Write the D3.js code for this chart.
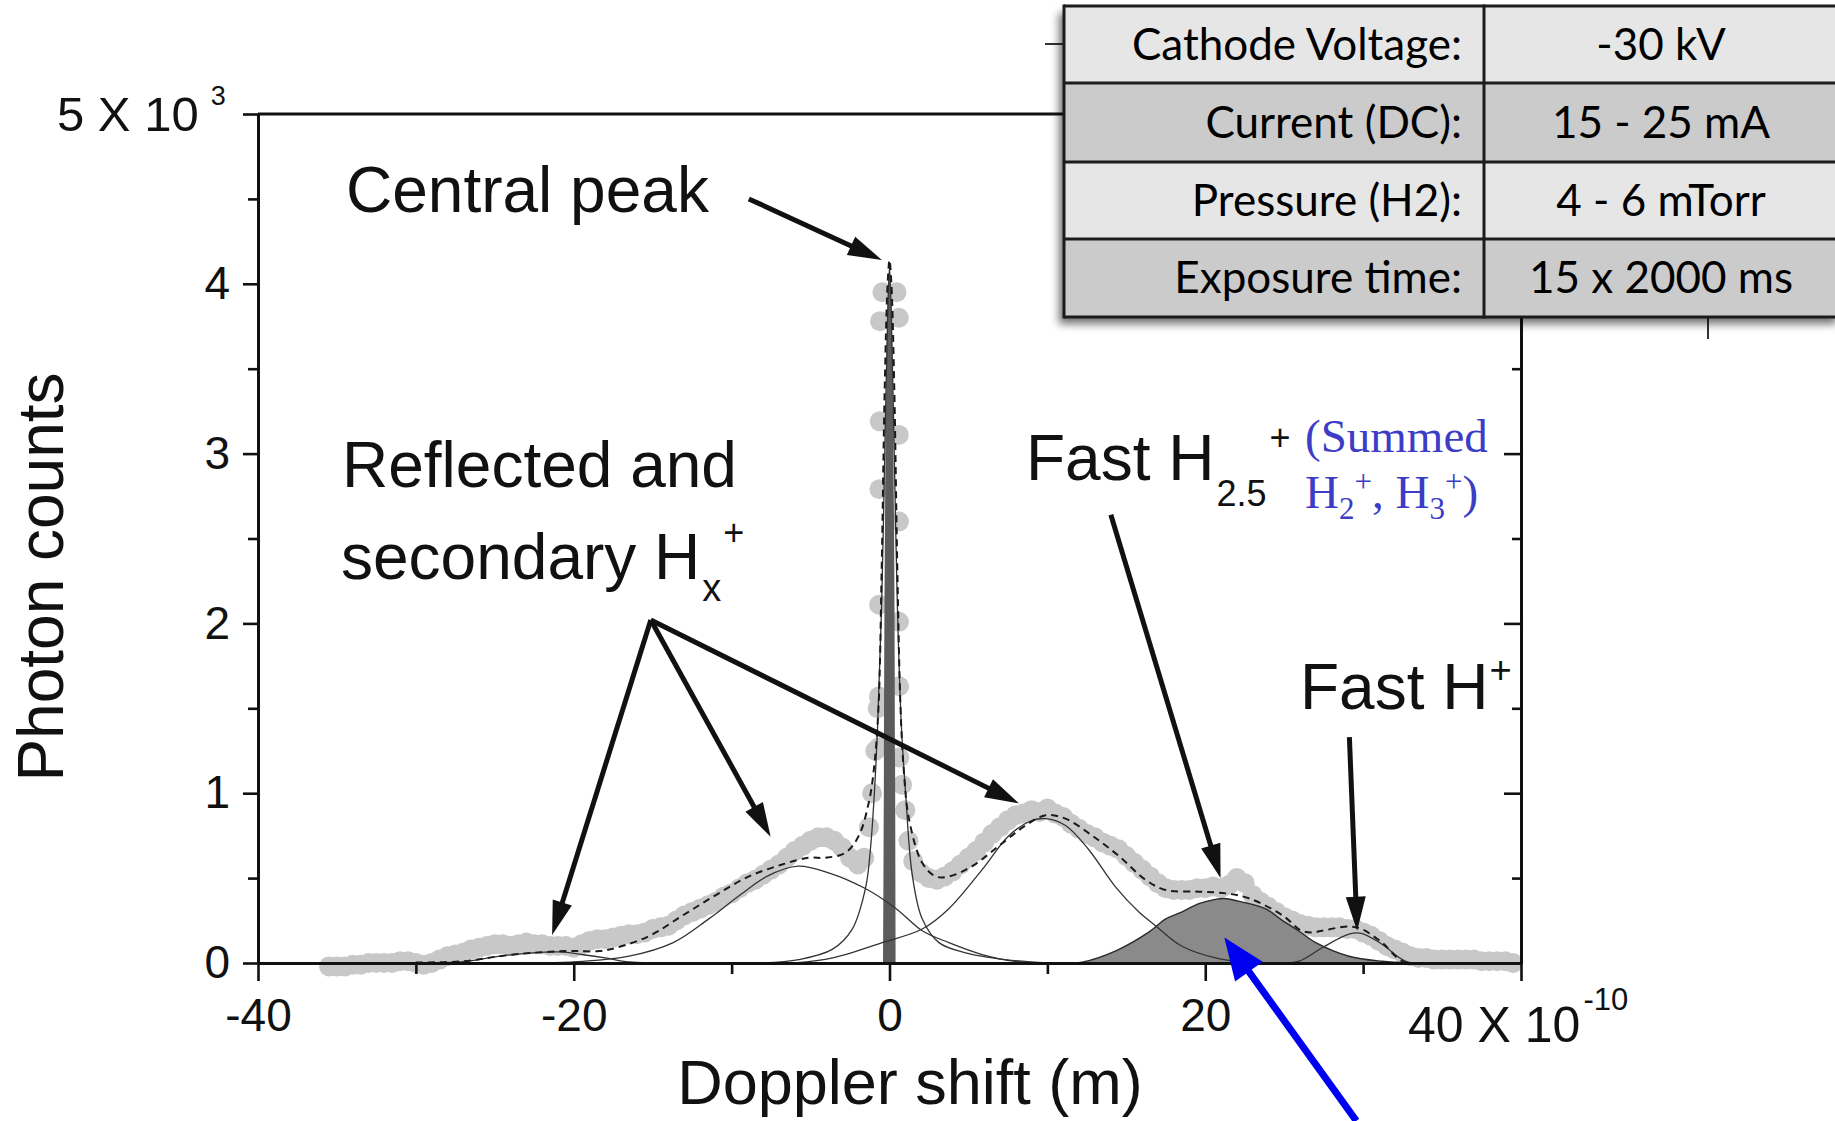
<!DOCTYPE html>
<html>
<head>
<meta charset="utf-8">
<script src="https://cdn.jsdelivr.net/npm/d3@7"></script>
<style>
  html, body { margin: 0; padding: 0; background: #ffffff; }
  svg { display: block; }
</style>
</head>
<body>
<svg id="chart" width="1835" height="1121"></svg>
<script>
// ---- Measured spectrum: Doppler shift (x 1e-10 m) and photon counts (x 1e3) ----
const dopplerShift = [
  -35.5, -35, -34.5, -34, -33.5, -33, -32.5, -32, -31.5, -31, -30.5, -30, -29.5, -29, -28.5, -28,
  -27.5, -27, -26.5, -26, -25.5, -25, -24.5, -24, -23.5, -23, -22.5, -22, -21.5, -21, -20.5, -20,
  -19.5, -19, -18.5, -18, -17.5, -17, -16.5, -16, -15.5, -15, -14.5, -14, -13.5, -13, -12.5, -12,
  -11.5, -11, -10.5, -10, -9.5, -9, -8.5, -8, -7.5, -7, -6.5, -6, -5.5, -5, -4.5, -4, -3.5, -3,
  -2.5, -2, -1.6, -1.3, -1.1, -0.9, -0.75,
  -0.67, -0.67, -0.66, -0.64, -0.62, -0.6, -0.45,
  0.45, 0.59, 0.59, 0.6, 0.6, 0.61, 0.62,
  0.8, 1.0, 1.2, 1.5, 2.0, 2.5, 3.0, 3.5, 4.0, 4.5, 5.0, 5.5, 6.0, 6.5, 7.0, 7.5, 8.0, 8.5, 9.0,
  9.5, 10, 10.5, 11, 11.5, 12, 12.5, 13, 13.5, 14, 14.5, 15, 15.5, 16, 16.5, 17, 17.5, 18, 18.5,
  19, 19.5, 20, 20.5, 21, 21.5, 22, 22.5, 23, 23.5, 24, 24.5, 25, 25.5, 26, 26.5, 27, 27.5, 28,
  28.5, 29, 29.5, 30, 30.5, 31, 31.5, 32, 32.5, 33, 33.5, 34, 34.5, 35, 35.5, 36, 36.5, 37, 37.5,
  38, 38.5, 39, 39.5
];
const photonCounts = [
  -0.02, -0.02, -0.02, -0.01, -0.01, 0.0, 0.0, 0.0, 0.0, 0.01, 0.01, 0.0, -0.01, 0.0, 0.02, 0.04,
  0.05, 0.06, 0.08, 0.09, 0.10, 0.11, 0.11, 0.10, 0.11, 0.12, 0.11, 0.11, 0.10, 0.10, 0.10, 0.09,
  0.11, 0.13, 0.14, 0.14, 0.15, 0.16, 0.17, 0.17, 0.18, 0.20, 0.21, 0.22, 0.25, 0.28, 0.30, 0.32,
  0.34, 0.36, 0.39, 0.41, 0.44, 0.47, 0.49, 0.52, 0.55, 0.58, 0.62, 0.66, 0.69, 0.72, 0.74, 0.74, 0.72, 0.68,
  0.62, 0.58, 0.62, 0.80, 1.00, 1.25, 1.50,
  1.27, 1.57, 2.11, 2.79, 3.19, 3.78, 3.95,
  3.95, 3.80, 3.11, 2.60, 2.01, 1.63, 1.21,
  1.05, 0.90, 0.72, 0.60, 0.53, 0.50, 0.49, 0.51, 0.54, 0.58, 0.62, 0.66, 0.71, 0.76, 0.80, 0.84, 0.87, 0.88, 0.90,
  0.89, 0.91, 0.88, 0.86, 0.82, 0.79, 0.76, 0.74, 0.71, 0.69, 0.67, 0.63, 0.59, 0.55, 0.51, 0.47, 0.44, 0.43, 0.43,
  0.43, 0.44, 0.44, 0.45, 0.44, 0.46, 0.50, 0.47, 0.40, 0.36, 0.33, 0.30, 0.27, 0.25, 0.23, 0.22, 0.21, 0.21, 0.21,
  0.21, 0.20, 0.20, 0.18, 0.16, 0.13, 0.10, 0.08, 0.06, 0.04, 0.03, 0.03, 0.02, 0.02, 0.02, 0.02, 0.02, 0.02, 0.01,
  0.01, 0.01, 0.01, 0.00
];

// ---- Fitted curves ----
// total fit (dashed)
const fitTotalX = [-30, -27, -24.7, -22.6, -20.5, -19.7, -18.4, -17.3, -15.2, -13.1, -11, -8.9, -6.8, -5.1,
  -4.05, -2.78, -1.94, -1.3, -0.99, -0.7, -0.5, -0.3, -0.12, 0, 0.12, 0.3, 0.5, 0.7, 0.9, 1.23, 2.07,
  2.92, 3.76, 5.24, 6.93, 8.62, 9.89, 11.15, 12.84, 14.53, 16.22, 17.49, 19.6, 21.3, 22.8, 24.9, 26.1,
  26.8, 27.4, 29.1, 29.9, 31.2, 32.5, 34];
const fitTotalY = [0.003, 0.01, 0.04, 0.06, 0.07, 0.07, 0.07, 0.09, 0.16, 0.28, 0.40, 0.51, 0.58, 0.62,
  0.62, 0.65, 0.75, 0.95, 1.14, 1.5, 2.3, 3.4, 4.0, 4.14, 4.0, 3.4, 2.3, 1.5, 1.14, 0.85, 0.59,
  0.51, 0.51, 0.57, 0.69, 0.81, 0.87, 0.85, 0.75, 0.63, 0.49, 0.43, 0.42, 0.41, 0.38, 0.28, 0.19,
  0.18, 0.19, 0.215, 0.20, 0.12, 0.01, 0];

// reflected / secondary component near -21
const compAX = [-31, -28.5, -26.8, -24.7, -22.6, -20.9, -19.5, -18, -16.7, -14];
const compAY = [0, 0.002, 0.01, 0.04, 0.06, 0.065, 0.05, 0.03, 0.008, 0];
// reflected / secondary component near -6
const compBX = [-24, -19.4, -16.5, -13.7, -11.45, -9.47, -7.77, -5.8, -3.81, -1.56, 0.42, 2.07, 3.76, 5.87, 7.99, 11];
const compBY = [0, 0.01, 0.04, 0.12, 0.26, 0.40, 0.51, 0.57, 0.53, 0.44, 0.32, 0.19, 0.12, 0.05, 0.01, 0];
// central (unshifted) line, broad wings
const compCX = [-8, -5.75, -3.63, -2.36, -1.5, -1.2, -0.99, -0.75, -0.5, -0.3, -0.12, 0, 0.12, 0.3, 0.5, 0.75, 1.02, 1.44, 2.07, 3.13, 4.82, 7.35, 10];
const compCY = [0, 0.02, 0.08, 0.20, 0.45, 0.68, 0.95, 1.4, 2.1, 3.0, 3.8, 4.1, 3.8, 3.0, 2.1, 1.4, 1.0, 0.52, 0.26, 0.12, 0.06, 0.02, 0];
// central narrow peak (filled)
const centralX = [-0.4, -0.36, -0.3, -0.2, -0.1, 0, 0.1, 0.2, 0.3, 0.36, 0.4];
const centralY = [0, 1.0, 2.4, 3.4, 3.9, 4.05, 3.9, 3.4, 2.4, 1.0, 0];
// reflected / secondary component near +10
const compDX = [-6, -3.6, -0.46, 2.07, 3.76, 5.87, 7.56, 9.04, 9.9, 11.15, 12.6, 14.3, 15.8, 16.85, 18.5, 20.65, 23];
const compDY = [0, 0.03, 0.12, 0.20, 0.32, 0.55, 0.75, 0.84, 0.85, 0.81, 0.67, 0.45, 0.30, 0.22, 0.10, 0.03, 0];
// fast H2.5+ component (filled)
const fastH25X = [11, 12.2, 14.3, 16.4, 17.5, 18.5, 19.6, 20.65, 21.2, 22.3, 23.8, 24.9, 25.9, 27.0, 29.1, 31.2, 33];
const fastH25Y = [0, 0.005, 0.07, 0.18, 0.26, 0.30, 0.35, 0.375, 0.38, 0.36, 0.32, 0.25, 0.19, 0.12, 0.04, 0.01, 0];
// fast H+ component
const fastH1X = [24, 25.9, 27.4, 29.1, 29.9, 31.2, 32.7, 34.5];
const fastH1Y = [0, 0.01, 0.09, 0.17, 0.175, 0.11, 0.01, 0];

// ---- Axes ----
const xMajorTicks = [-40, -20, 0, 20, 40];
const xMinorTicks = [-30, -10, 10, 30];
const yMajorTicks = [0, 1, 2, 3, 4, 5];
const yMinorTicks = [0.5, 1.5, 2.5, 3.5, 4.5];

// ---- Run parameters table ----
const paramLabels = ["Cathode Voltage:", "Current (DC):", "Pressure (H2):", "Exposure time:"];
const paramValues = ["-30 kV", "15 - 25 mA", "4 - 6 mTorr", "15 x 2000 ms"];

// ===================================================================
const svg = d3.select("#chart");
const SANS = "'Liberation Sans', Arial, Helvetica, sans-serif";
const SERIF = "'Liberation Serif', 'Times New Roman', serif";
const TABLE_FONT = "Lato, 'Open Sans', sans-serif";
const INK = "#111";

const x = d3.scaleLinear().domain([-40, 40]).range([258, 1521]);
const y = d3.scaleLinear().domain([0, 5]).range([963, 114]);

const defs = svg.append("defs");
const shadow = defs.append("filter").attr("id", "tableShadow")
  .attr("x", "-10%").attr("y", "-10%").attr("width", "130%").attr("height", "140%");
shadow.append("feDropShadow").attr("dx", -5).attr("dy", 7).attr("stdDeviation", 4)
  .attr("flood-color", "#000").attr("flood-opacity", 0.55);

const plot = svg.append("g");
const curve = d3.curveCatmullRom.alpha(0.5);
const line = d3.line().x(d => x(d[0])).y(d => y(d[1])).curve(curve);
const area = d3.area().x(d => x(d[0])).y0(y(0)).y1(d => y(d[1])).curve(curve);

// measured points
plot.append("g").selectAll("circle")
  .data(d3.zip(dopplerShift, photonCounts))
  .join("circle")
  .attr("cx", d => x(d[0]))
  .attr("cy", d => y(d[1]))
  .attr("r", 10)
  .attr("fill", "#c8c8c8");

// filled components
plot.append("path").datum(d3.zip(fastH25X, fastH25Y))
  .attr("d", area).attr("fill", "#8a8a8a").attr("stroke", "#2a2a2a").attr("stroke-width", 1.4);
plot.append("path").datum(d3.zip(centralX, centralY))
  .attr("d", area).attr("fill", "#5c5c5c");

// thin component lines
[[compAX, compAY], [compBX, compBY], [compCX, compCY], [compDX, compDY], [fastH1X, fastH1Y]]
  .forEach(([xs, ys]) => {
    plot.append("path").datum(d3.zip(xs, ys))
      .attr("d", line).attr("fill", "none")
      .attr("stroke", "#333").attr("stroke-width", 1.3);
  });

// total fit
plot.append("path").datum(d3.zip(fitTotalX, fitTotalY))
  .attr("d", line).attr("fill", "none")
  .attr("stroke", "#1a1a1a").attr("stroke-width", 2)
  .attr("stroke-dasharray", "7,5");

// ---- axes ----
function styleAxis(g, fontSize) {
  g.select(".domain").attr("stroke", INK).attr("stroke-width", 3);
  g.selectAll(".tick line").attr("stroke", INK).attr("stroke-width", 2.6);
  g.selectAll(".tick text").attr("fill", INK).attr("font-family", SANS).attr("font-size", fontSize);
}

svg.append("g").attr("transform", `translate(${x(-40)},0)`)
  .call(d3.axisLeft(y).tickValues(yMinorTicks).tickSize(10).tickSizeOuter(0).tickFormat(""))
  .call(g => styleAxis(g, 46));
svg.append("g").attr("transform", `translate(${x(-40)},0)`)
  .call(d3.axisLeft(y).tickValues(yMajorTicks).tickSize(15).tickSizeOuter(0).tickPadding(13)
    .tickFormat(d => d === 5 ? "" : String(d)))
  .call(g => styleAxis(g, 46));

svg.append("g").attr("transform", `translate(${x(40)},0)`)
  .call(d3.axisLeft(y).tickValues(yMinorTicks).tickSize(9).tickSizeOuter(0).tickFormat(""))
  .call(g => styleAxis(g, 46));
svg.append("g").attr("transform", `translate(${x(40)},0)`)
  .call(d3.axisLeft(y).tickValues(yMajorTicks).tickSize(17).tickSizeOuter(0).tickFormat(""))
  .call(g => styleAxis(g, 46));

svg.append("g").attr("transform", `translate(0,${y(0)})`)
  .call(d3.axisBottom(x).tickValues(xMinorTicks).tickSize(11).tickSizeOuter(0).tickFormat(""))
  .call(g => styleAxis(g, 46));
svg.append("g").attr("transform", `translate(0,${y(0)})`)
  .call(d3.axisBottom(x).tickValues(xMajorTicks).tickSize(18).tickSizeOuter(0).tickPadding(17)
    .tickFormat(d => d === 40 ? "" : String(d)))
  .call(g => styleAxis(g, 46));

// top frame
svg.append("line").attr("x1", x(-40)).attr("x2", x(40)).attr("y1", y(5)).attr("y2", y(5))
  .attr("stroke", INK).attr("stroke-width", 3);

// scaled end labels
const yEnd = svg.append("text").attr("x", 57).attr("y", y(5) + 17)
  .attr("font-family", SANS).attr("font-size", 49).attr("fill", INK);
yEnd.append("tspan").text("5 X 10");
yEnd.append("tspan").attr("dx", 12).attr("dy", -26).attr("font-size", 27).text("3");

const xEnd = svg.append("text").attr("x", 1408).attr("y", 1042)
  .attr("font-family", SANS).attr("font-size", 50).attr("fill", INK);
xEnd.append("tspan").text("40 X 10");
xEnd.append("tspan").attr("dx", 3).attr("dy", -32).attr("font-size", 31).text("-10");

// axis titles
svg.append("text").attr("transform", "translate(63,577) rotate(-90)")
  .attr("text-anchor", "middle").attr("font-family", SANS).attr("font-size", 64).attr("fill", INK)
  .text("Photon counts");
svg.append("text").attr("x", 910).attr("y", 1104)
  .attr("text-anchor", "middle").attr("font-family", SANS).attr("font-size", 63).attr("fill", INK)
  .text("Doppler shift (m)");

// ---- annotation arrows (data coordinates) ----
function arrow(from, to, color, shaftW, headL, headW) {
  const x1 = x(from[0]), y1 = y(from[1]), x2 = x(to[0]), y2 = y(to[1]);
  const dx = x2 - x1, dy = y2 - y1, len = Math.hypot(dx, dy);
  const ux = dx / len, uy = dy / len, nx = -uy, ny = ux;
  const bx = x2 - ux * headL, by = y2 - uy * headL;
  svg.append("line").attr("x1", x1).attr("y1", y1).attr("x2", bx + ux * 2).attr("y2", by + uy * 2)
    .attr("stroke", color).attr("stroke-width", shaftW);
  svg.append("path")
    .attr("d", `M${x2},${y2}L${bx + nx * headW},${by + ny * headW}L${bx - nx * headW},${by - ny * headW}Z`)
    .attr("fill", color);
}
arrow([-8.91, 4.50], [-0.48, 4.14], INK, 5, 34, 10);
arrow([-15.12, 2.02], [-21.37, 0.165], INK, 5, 34, 10);
arrow([-15.12, 2.02], [-7.53, 0.744], INK, 5, 34, 10);
arrow([-15.12, 2.02], [8.20, 0.94], INK, 5, 34, 10);
arrow([14.02, 2.64], [20.97, 0.50], INK, 5, 34, 10);
arrow([29.13, 1.33], [29.62, 0.19], INK, 5, 34, 10);
arrow([29.57, -0.93], [21.21, 0.15], "#0000f0", 7, 42, 17);

// ---- annotation texts ----
function label(px, py, size) {
  return svg.append("text").attr("x", px).attr("y", py)
    .attr("font-family", SANS).attr("font-size", size).attr("fill", INK);
}
label(346, 212, 64).text("Central peak");
label(342, 487, 64).text("Reflected and");
const sec = label(341, 579, 64);
sec.append("tspan").text("secondary H");
sec.append("tspan").attr("font-size", 38).attr("dx", 2).attr("dy", 22).text("x");
sec.append("tspan").attr("font-size", 36).attr("dx", 2).attr("dy", -56).text("+");

const f25 = label(1026, 480, 64);
f25.append("tspan").text("Fast H");
f25.append("tspan").attr("font-size", 36).attr("dx", 2).attr("dy", 26).text("2.5");
f25.append("tspan").attr("font-size", 36).attr("dx", 3).attr("dy", -56).text("+");

const fh = label(1300, 709, 64);
fh.append("tspan").text("Fast H");
fh.append("tspan").attr("font-size", 38).attr("dx", 1).attr("dy", -26).text("+");

const blue = "#3c3cc6";
svg.append("text").attr("x", 1305).attr("y", 452)
  .attr("font-family", SERIF).attr("font-size", 47).attr("fill", blue).text("(Summed");
const hs = svg.append("text").attr("x", 1305).attr("y", 508)
  .attr("font-family", SERIF).attr("font-size", 47).attr("fill", blue);
hs.append("tspan").text("H");
hs.append("tspan").attr("font-size", 31).attr("dy", 11).text("2");
hs.append("tspan").attr("font-size", 31).attr("dy", -27).text("+");
hs.append("tspan").attr("dy", 16).text(", H");
hs.append("tspan").attr("font-size", 31).attr("dy", 11).text("3");
hs.append("tspan").attr("font-size", 31).attr("dy", -27).text("+");
hs.append("tspan").attr("dy", 16).text(")");

// ---- stray frame fragments around the table ----
svg.append("line").attr("x1", 1045).attr("x2", 1066).attr("y1", 44).attr("y2", 44)
  .attr("stroke", "#333").attr("stroke-width", 2);
svg.append("line").attr("x1", 1708).attr("x2", 1708).attr("y1", 317).attr("y2", 339)
  .attr("stroke", "#333").attr("stroke-width", 2);

// ---- run parameters table ----
const rowEdges = [6, 83, 162, 239, 317];
const tLeft = 1064, tDiv = 1484, tRight = 1842;
const table = svg.append("g");
table.append("rect").attr("x", tLeft).attr("y", rowEdges[0])
  .attr("width", tRight - tLeft).attr("height", rowEdges[4] - rowEdges[0])
  .attr("fill", "#d8d8d8").attr("filter", "url(#tableShadow)");
paramLabels.forEach((lab, i) => {
  const top = rowEdges[i], h = rowEdges[i + 1] - rowEdges[i];
  table.append("rect").attr("x", tLeft).attr("y", top).attr("width", tRight - tLeft).attr("height", h)
    .attr("fill", i % 2 === 0 ? "#e6e6e6" : "#cbcbcb");
  const base = top + h / 2 + 15;
  table.append("text").attr("x", 1462).attr("y", base).attr("text-anchor", "end")
    .attr("font-family", TABLE_FONT).attr("font-size", 44).attr("fill", "#000")
    .text(lab);
  table.append("text").attr("x", 1661).attr("y", base).attr("text-anchor", "middle")
    .attr("font-family", TABLE_FONT).attr("font-size", 44).attr("fill", "#000")
    .text(paramValues[i]);
});
rowEdges.forEach(r => {
  table.append("line").attr("x1", tLeft).attr("x2", tRight).attr("y1", r).attr("y2", r)
    .attr("stroke", "#1c1c1c").attr("stroke-width", 3);
});
[tLeft, tDiv].forEach(c => {
  table.append("line").attr("x1", c).attr("x2", c).attr("y1", rowEdges[0] - 1.5).attr("y2", rowEdges[4] + 1.5)
    .attr("stroke", "#1c1c1c").attr("stroke-width", 3);
});
</script>
</body>
</html>
